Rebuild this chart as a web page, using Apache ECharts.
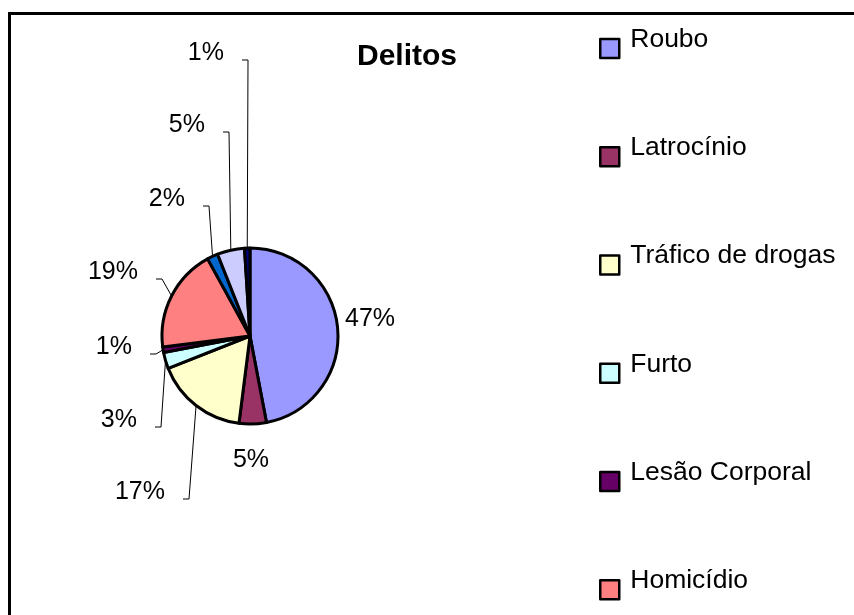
<!DOCTYPE html>
<html>
<head>
<meta charset="utf-8">
<title>Delitos</title>
<script src="https://cdn.jsdelivr.net/npm/echarts@6/dist/echarts.min.js"></script>
<style>
  html, body { margin: 0; padding: 0; background: #fff; }
  #main { width: 854px; height: 615px; }
</style>
</head>
<body>
<div id="main"></div>
<script>
// share of each crime type, in percent (last three legend entries are cut off in the source)
const categories = ['Roubo', 'Latrocínio', 'Tráfico de drogas', 'Furto', 'Lesão Corporal', 'Homicídio',
  'Estupro', 'Porte ilegal de arma', 'Outros'];
const shares = [47, 5, 17, 3, 1, 19, 2, 5, 1];
const colors = ['#9999FF', '#993366', '#FFFFCC', '#CCFFFF', '#660066', '#FF8080', '#0066CC', '#CCCCFF', '#000080'];

// where each percentage label sits: [x, y, align, leaderLine]
const labelSpots = [
  [370, 319, 'center', false],
  [251, 460, 'center', false],
  [165, 492, 'right', true],
  [137, 420, 'right', true],
  [132, 347, 'right', true],
  [138, 272, 'right', true],
  [185, 199, 'right', true],
  [205, 125, 'right', true],
  [224, 53, 'right', true]
];

const FONT = '"Liberation Sans", Arial, sans-serif';

let chartDom = document.getElementById('main');
let myChart = echarts.init(chartDom);

let pieData = categories.map((name, i) => ({
  name: name,
  value: shares[i],
  itemStyle: {color: colors[i]},
  labelLine: {show: labelSpots[i][3]}
}));

let option = {
  animation: false,
  color: colors,
  title: {
    text: 'Delitos',
    left: 407,
    top: 42,
    padding: 0,
    textAlign: 'center',
    textStyle: {fontFamily: FONT, fontSize: 30, fontWeight: 'bold', color: '#000'}
  },
  legend: {
    orient: 'vertical',
    left: 599,
    top: 26,
    height: 1200,
    padding: 0,
    itemWidth: 19,
    itemHeight: 19,
    itemGap: 75,
    icon: 'rect',
    itemStyle: {borderColor: '#000', borderWidth: 2.5},
    formatter: '{t|{name}}',
    textStyle: {
      rich: {
        t: {fontFamily: FONT, fontSize: 26.5, color: '#000', padding: [0, 0, 18, 6]}
      }
    },
    data: categories
  },
  graphic: [
    {
      type: 'rect',
      shape: {x: 9.5, y: 13.5, width: 1000, height: 800},
      style: {fill: 'none', stroke: '#000', lineWidth: 3},
      silent: true
    }
  ],
  series: [
    {
      type: 'pie',
      center: [250, 336],
      radius: 88,
      startAngle: 90,
      clockwise: true,
      avoidLabelOverlap: false,
      itemStyle: {borderColor: '#000', borderWidth: 3},
      label: {
        show: true,
        position: 'outside',
        fontFamily: FONT,
        fontSize: 25,
        color: '#000',
        formatter: (p) => Math.round(p.percent) + '%'
      },
      labelLine: {
        show: true,
        length: 10,
        length2: 6,
        lineStyle: {color: '#000', width: 1}
      },
      labelLayout: (params) => {
        const spot = labelSpots[params.dataIndex];
        if (!spot) return {};
        const layout = {x: spot[0], y: spot[1], align: spot[2], verticalAlign: 'middle'};
        if (spot[3] && params.labelLinePoints) {
          const start = params.labelLinePoints[0];
          const tickY = spot[1] + 7;
          const tickX = spot[0] + 18;
          layout.labelLinePoints = [[start[0], start[1]], [tickX + 6, tickY], [tickX, tickY]];
        }
        return layout;
      },
      emphasis: {disabled: true},
      data: pieData
    }
  ]
};

option && myChart.setOption(option);
</script>
</body>
</html>
